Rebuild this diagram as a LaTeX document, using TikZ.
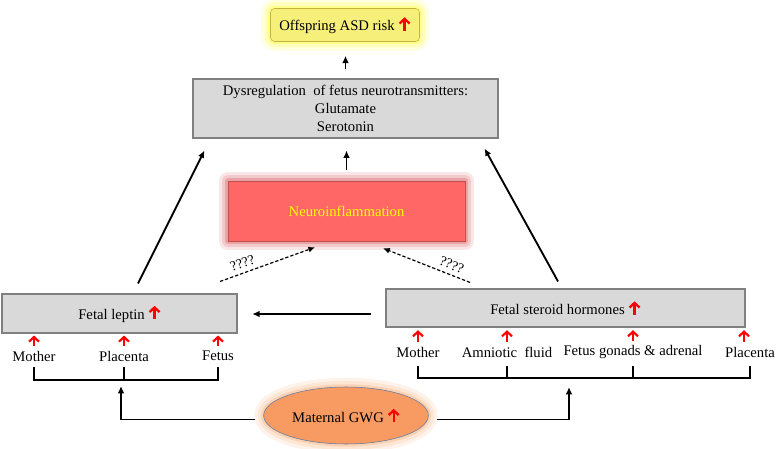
\documentclass[tikz,border=0pt]{standalone}
\usepackage{fontspec}
\setmainfont{Liberation Serif}
\usetikzlibrary{arrows.meta,shapes.geometric}
\definecolor{boxgray}{HTML}{D9D9D9}
\definecolor{boxline}{HTML}{808080}
\definecolor{riskfill}{HTML}{F6F07A}
\definecolor{riskline}{HTML}{C2B43C}
\definecolor{riskglow}{HTML}{FFFF33}
\definecolor{neurofill}{HTML}{FF6666}
\definecolor{neuroline}{HTML}{C0504D}
\definecolor{neuroglow}{HTML}{D9595C}
\definecolor{neurotext}{HTML}{FFFF00}
\definecolor{gwgfill}{HTML}{F79B62}
\definecolor{gwgline}{HTML}{5A7AA8}
\definecolor{gwgglow}{HTML}{FBAF78}
\newcommand{\incr}{\tikz[baseline=0pt]\draw[red,line width=1.7pt,-{Straight Barb[length=3.5pt,width=7.5pt]}] (0,0) -- (0,10pt);}

\begin{document}
\begin{tikzpicture}[x=0.75pt,y=-0.75pt,
    every node/.style={font=\fontsize{11}{13.5}\selectfont},
    graybox/.style={draw=boxline,fill=boxgray,inner sep=0pt,line width=0.8pt},
    glow/.style={preaction={draw=#1,line width=14pt,opacity=0.15,line join=round},
                 preaction={draw=#1,line width=9pt,opacity=0.2,line join=round},
                 preaction={draw=#1,line width=4pt,opacity=0.35,line join=round}},
    arr/.style={line width=1.4pt,-{Latex[length=5.5pt,width=5pt]}},
    dasharr/.style={line width=0.9pt,dash pattern=on 2.5pt off 1.5pt,-{Latex[length=5pt,width=4.5pt]}},
    redup/.style={red,line width=1.6pt,-{Straight Barb[length=3.5pt,width=7.5pt]}},
    bracket/.style={line width=1.4pt},
    qmark/.style={pos=#1,sloped,above,font=\fontsize{10.5}{12}\selectfont}]
    \useasboundingbox (0,0) rectangle (778,449);

    \node[draw=riskline,fill=riskfill,rounded corners=3pt,glow=riskglow,minimum width=111.75pt,minimum height=24.75pt] (risk) at (345,25) {Offspring ASD risk \incr};
    \node[graybox,minimum width=228.75pt,minimum height=44.25pt,align=center] (dys) at (345.5,108.5) {Dysregulation\ \ of fetus neurotransmitters:\\Glutamate\\Serotonin};
    \node[draw=neuroline,fill=neurofill,glow=neuroglow,text=neurotext,minimum width=177.75pt,minimum height=45pt] (neuro) at (346.5,211) {Neuroinflammation};
    \node[graybox,minimum width=176.25pt,minimum height=29.25pt] (leptin) at (119.5,313.5) {Fetal leptin \incr};
    \node[graybox,minimum width=269.25pt,minimum height=28.5pt] (steroid) at (565.5,308) {Fetal steroid hormones \incr};
    \node[ellipse,draw=gwgline,fill=gwgfill,glow=gwgglow,minimum width=113.25pt,minimum height=42.75pt] (gwg) at (346,415.5) {Maternal GWG \incr};

    \node (lm) at (34,356) {Mother};
    \node (lp) at (124,356) {Placenta};
    \node (lf) at (218,356) {Fetus};
    \node (sm) at (418,352) {Mother};
    \node (sa) at (507,352) {Amniotic\ \ fluid};
    \node (sg) at (633,352) {Fetus gonads \& adrenal};
    \node (sp) at (750,352) {Placenta};

    \draw[redup,shorten >=1.5pt] (lm.north) -- (lm.north |- leptin.south);
    \draw[redup,shorten >=1.5pt] (lp.north) -- (lp.north |- leptin.south);
    \draw[redup,shorten >=1.5pt] (lf.north) -- (lf.north |- leptin.south);
    \draw[redup,shorten >=2pt] (sm.north) -- (sm.north |- steroid.south);
    \draw[redup,shorten >=2pt] (sa.north) -- (sa.north |- steroid.south);
    \draw[redup,shorten >=2pt] (sg.north) -- (sg.north |- steroid.south);
    \draw[redup,shorten >=2pt] ([xshift=-4.5pt]sp.north) -- ([xshift=-4.5pt]sp.north |- steroid.south);

    \draw[bracket] (lm |- 0,367) -- (lm |- 0,380) -| (lf |- 0,367);
    \draw[bracket] (lp |- 0,367) -- (lp |- 0,380);
    \draw[bracket] (sm |- 0,366) -- (sm |- 0,378) -| (sp |- 0,366);
    \draw[bracket] (sa |- 0,366) -- (sa |- 0,378);
    \draw[bracket] (sg |- 0,366) -- (sg |- 0,378);

    \coordinate (lj) at (121,386);
    \coordinate (rj) at (569,387);
    \draw[arr,shorten <=6pt] ([yshift=-3pt]gwg.west) -| (lj);
    \draw[arr,shorten <=6pt] ([yshift=-3pt]gwg.east) -| (rj);

    \draw[arr,shorten <=10.5pt,shorten >=11pt] (steroid.west |- 0,314) -- (leptin.east |- 0,314);
    \draw[arr,shorten <=7pt,shorten >=10.5pt] (dys.north) -- (dys.north |- risk.south);
    \draw[arr,shorten <=8pt,shorten >=9pt] (neuro.north) -- (neuro.north |- dys.south);
    \draw[arr] ([xshift=13.9pt,yshift=7.5pt]leptin.north) -- ([xshift=9pt,yshift=-9pt]dys.south west);
    \draw[arr] ([xshift=-5.6pt,yshift=5.25pt]steroid.north) -- ([xshift=-10.5pt,yshift=-7.5pt]dys.south east);

    \draw[dasharr] ([xshift=75.4pt,yshift=9pt]leptin.north) -- node[qmark=0.27] {????} ([xshift=-23.6pt,yshift=-4.5pt]neuro.south);
    \draw[dasharr] ([xshift=-71.6pt,yshift=4.5pt]steroid.north) -- node[qmark=0.25] {????} ([xshift=27.4pt,yshift=-5.25pt]neuro.south);
\end{tikzpicture}
\end{document}
